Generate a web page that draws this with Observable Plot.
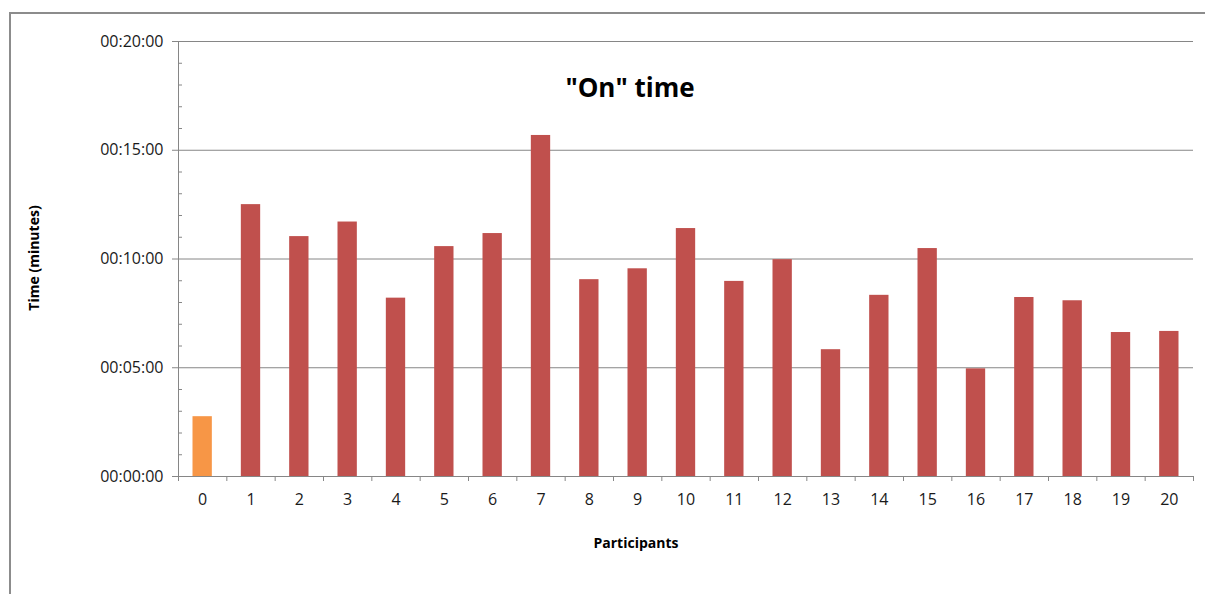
<!DOCTYPE html>
<html>
<head>
<meta charset="utf-8">
<script src="https://cdn.jsdelivr.net/npm/d3@7"></script>
<script src="https://cdn.jsdelivr.net/npm/@observablehq/plot@0.6"></script>
<style>
  html, body { margin: 0; padding: 0; background: #fff; }
  #wrap { position: relative; width: 1205px; height: 594px; overflow: hidden; font-family: "Open Sans", "Noto Sans", sans-serif; }
  #frame { position: absolute; left: 9px; top: 12px; width: 1300px; height: 700px; border-left: 2px solid #8c8c8c; border-top: 2px solid #8c8c8c; }
  #title { position: absolute; left: 630px; top: 69px; transform: translateX(-50%); font-size: 26px; font-weight: bold; color: #000; white-space: nowrap; }
  #xlabel { position: absolute; left: 636px; top: 533px; transform: translateX(-50%); font-size: 14px; font-weight: bold; color: #000; white-space: nowrap; }
  #ylabel { position: absolute; left: 33px; top: 258px; transform: translate(-50%, -50%) rotate(-90deg); font-size: 14px; font-weight: bold; color: #000; white-space: nowrap; }
  #chart { position: absolute; left: 0; top: 0; }
</style>
</head>
<body>
<div id="wrap">
  <div id="frame"></div>
  <div id="chart"></div>
  <div id="title">"On" time</div>
  <div id="xlabel">Participants</div>
  <div id="ylabel">Time (minutes)</div>
</div>
<script>
// Data (minutes of "On" time per participant)
const participants = [0, 1, 2, 3, 4, 5, 6, 7, 8, 9, 10, 11, 12, 13, 14, 15, 16, 17, 18, 19, 20];
const onTimeMinutes = [2.75, 12.5, 11.03, 11.7, 8.2, 10.57, 11.17, 15.68, 9.05, 9.55, 11.4, 8.97, 9.97, 5.83, 8.33, 10.48, 4.95, 8.23, 8.08, 6.62, 6.67];
const group = ["baseline", "p", "p", "p", "p", "p", "p", "p", "p", "p", "p", "p", "p", "p", "p", "p", "p", "p", "p", "p", "p"];
const yMajorTicks = [0, 5, 10, 15, 20];
const yMinorTicks = [1, 2, 3, 4, 6, 7, 8, 9, 11, 12, 13, 14, 16, 17, 18, 19];
const categoryEdges = [-0.5, 0.5, 1.5, 2.5, 3.5, 4.5, 5.5, 6.5, 7.5, 8.5, 9.5, 10.5, 11.5, 12.5, 13.5, 14.5, 15.5, 16.5, 17.5, 18.5, 19.5, 20.5];

const data = participants.map((p, i) => ({p, v: onTimeMinutes[i], g: group[i]}));
const fmt = m => "00:" + String(m).padStart(2, "0") + ":00";
const barHalf = 0.2; // Excel gap width 150%
const gridColor = "#868686";

const chart = Plot.plot({
  width: 1205,
  height: 594,
  marginTop: 41,
  marginRight: 12,
  marginBottom: 118,
  marginLeft: 178,
  style: {fontFamily: "'Open Sans', 'Noto Sans', sans-serif", fontSize: "16px", color: "#1a1a1a", background: "transparent"},
  x: {domain: [-0.5, 20.5]},
  y: {domain: [0, 20]},
  color: {domain: ["baseline", "p"], range: ["#F79646", "#C0504D"]},
  marks: [
    Plot.ruleY([5, 10, 15, 20], {stroke: gridColor, strokeWidth: 1}),
    Plot.rectY(data, {x1: d => d.p - barHalf, x2: d => d.p + barHalf, y: "v", fill: "g"}),
    Plot.ruleX([-0.5], {stroke: gridColor}),
    Plot.ruleY([0], {stroke: gridColor}),
    Plot.axisY({ticks: yMajorTicks, tickFormat: fmt, tickSize: 6, tickPadding: 9, stroke: gridColor, fill: "#1a1a1a", label: null, fontSize: 16}),
    Plot.axisY({ticks: yMinorTicks, tickFormat: () => "", tickSize: -4, stroke: gridColor, label: null}),
    Plot.axisX({ticks: participants, tickFormat: d => String(d), tickSize: 0, tickPadding: 17, fill: "#1a1a1a", label: null, fontSize: 16}),
    Plot.axisX({ticks: categoryEdges, tickFormat: () => "", tickSize: 5, stroke: gridColor, label: null})
  ]
});
document.getElementById("chart").appendChild(chart);
</script>
</body>
</html>
